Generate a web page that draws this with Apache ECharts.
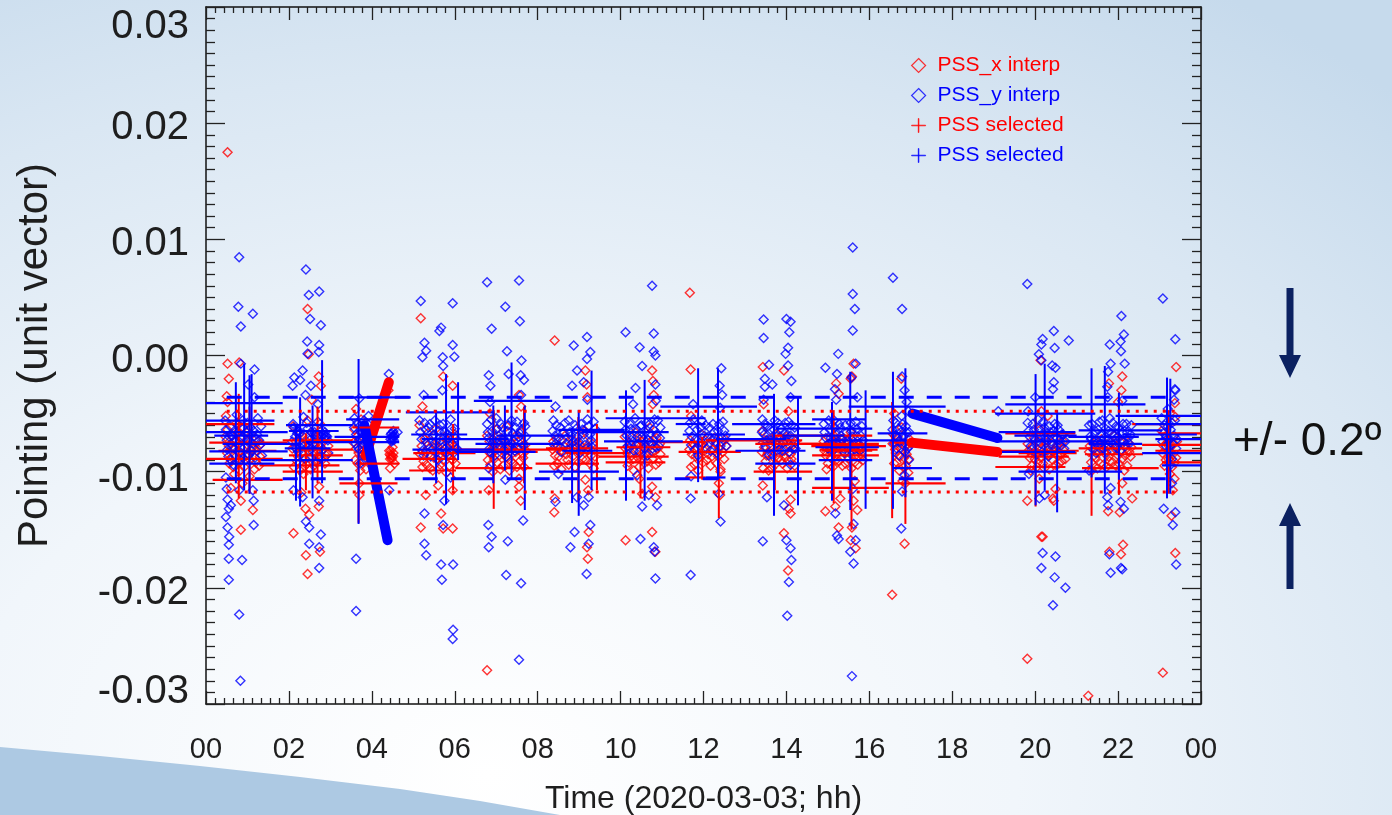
<!DOCTYPE html>
<html>
<head>
<meta charset="utf-8">
<script src="https://cdn.jsdelivr.net/npm/echarts@6/dist/echarts.min.js"></script>
<style>
  html, body { margin: 0; padding: 0; width: 1392px; height: 815px; overflow: hidden; }
  body {
    background: radial-gradient(ellipse 95% 115% at 35% 95%, #ffffff 0%, #f1f6fb 40%, #dae7f3 75%, #c6daec 100%);
  }
  #chart { width: 1392px; height: 815px; }
</style>
</head>
<body>
<div id="chart"></div>
<script>
// time in hours of 2020-03-03, pointing in units of 1e-3 (unit vector)
const xTickLabels = ["00", "02", "04", "06", "08", "10", "12", "14", "16", "18", "20", "22", "00"];
const yTickLabels = { "-30": "-0.03", "-20": "-0.02", "-10": "-0.01", "0": "0.00", "10": "0.01", "20": "0.02", "30": "0.03" };

const pssXInterp = [
  // 00-01h
  [0.48,-5.2],[0.52,-6.4],[0.55,-7.8],[0.58,-8.9],[0.62,-6.9],[0.66,-9.6],[0.7,-7.4],[0.74,-5.8],[0.78,-8.3],[0.82,-9.9],
  [0.86,-7.1],[0.9,-6.2],[0.95,-8.6],[1.0,-7.7],[1.05,-10.4],[1.1,-6.8],[1.15,-8.1],[1.2,-9.2],[1.25,-7.4],[1.3,-8.7],
  [0.52,17.5],[0.52,-0.7],[0.55,-2.0],[0.8,-0.6],[0.52,-4.0],[0.84,-15.0],[1.13,-13.3],[0.84,-12.5],[0.88,-11.0],[0.5,-3.5],[0.6,-11.4],
  // 02-03h
  [2.1,-6.1],[2.15,-7.9],[2.2,-9.1],[2.25,-6.8],[2.3,-8.4],[2.35,-10.2],[2.4,-7.3],[2.45,-5.6],[2.5,-8.8],[2.55,-6.6],
  [2.6,-9.5],[2.65,-7.6],[2.7,-8.2],[2.75,-5.9],[2.8,-9.0],[2.85,-7.1],[2.9,-8.6],[2.95,-7.8],
  [2.45,4.0],[2.48,0.1],[2.72,-1.8],[2.77,-2.6],[2.11,-15.3],[2.4,-13.2],[2.49,-13.7],[2.41,-17.2],[2.45,-18.8],[2.75,-16.9],
  [2.72,-13.0],[2.73,-11.3],[2.3,-11.8],[2.55,-3.8],
  // 03-04h
  [3.58,-6.4],[3.62,-8.0],[3.66,-9.3],[3.7,-7.2],[3.74,-5.5],[3.78,-8.6],[3.82,-7.7],[3.86,-9.8],[3.9,-6.9],
  [4.42,-8.2],[4.45,-8.6],[4.48,-8.9],[4.52,-8.4],[4.5,-7.9],
  [4.40,-3.0],[4.44,-9.7],[3.70,-11.0],[3.70,-12.0],[3.62,-4.6],[4.55,-9.3],
  // 05-06h
  [5.15,-6.0],[5.2,-7.8],[5.25,-9.1],[5.3,-8.3],[5.35,-6.7],[5.4,-9.7],[5.45,-7.4],[5.5,-8.8],[5.55,-6.3],[5.6,-7.9],
  [5.65,-9.4],[5.7,-8.2],[5.75,-7.0],[5.8,-10.1],[5.85,-8.5],[5.9,-7.5],[5.95,-9.0],[6.0,-6.8],[6.05,-8.1],
  [5.18,3.2],[5.18,-14.8],[5.67,-13.6],[5.72,-14.9],[5.95,-14.9],[5.22,-4.4],[5.95,-11.6],[5.72,-1.8],[5.95,-2.6],[5.3,-12.0],[5.6,-11.2],
  // 06-07h
  [6.78,-6.9],[6.82,-8.3],[6.86,-9.4],[6.9,-7.6],[6.95,-8.9],[7.0,-6.4],[7.05,-8.0],[7.1,-9.8],[7.15,-7.3],[7.2,-8.6],
  [7.25,-6.1],[7.3,-7.9],[7.35,-9.1],[7.4,-8.4],[7.45,-7.0],[7.5,-9.6],[7.55,-8.1],[7.6,-6.6],[7.65,-8.8],[7.7,-7.7],
  [6.78,-27.1],[6.82,-11.6],[7.55,-11.3],[7.59,-12.5],[7.55,-10.6],[6.85,-5.0],[7.6,-4.4],[7.55,-3.4],
  // 08-09h
  [8.38,-7.4],[8.42,-8.6],[8.48,-9.3],[8.54,-7.9],[8.6,-8.3],[8.66,-6.9],[8.72,-9.0],[8.78,-8.0],[8.84,-7.2],[8.9,-9.6],
  [8.96,-8.4],[9.02,-7.7],[9.08,-8.9],[9.14,-6.5],[9.2,-8.2],[9.26,-9.3],[9.32,-7.6],[9.38,-8.7],
  [8.41,1.3],[9.15,-1.3],[8.41,-12.3],[8.40,-13.5],[9.19,-16.5],[9.21,-17.5],[9.23,-15.2],[9.15,-10.7],[9.18,-2.5],[9.2,-3.6],[9.22,-11.6],
  // 10-11h
  [10.1,-7.0],[10.15,-8.4],[10.2,-9.2],[10.25,-7.7],[10.3,-8.9],[10.35,-6.6],[10.4,-8.1],[10.45,-9.6],[10.5,-7.4],[10.55,-8.6],
  [10.6,-7.9],[10.65,-9.1],[10.7,-6.2],[10.75,-8.3],[10.8,-7.2],[10.85,-9.4],[10.9,-8.0],[10.95,-7.6],
  [10.76,-1.3],[10.78,-2.2],[10.12,-15.9],[10.76,-15.2],[10.84,-16.9],[10.84,-12.2],[10.52,-11.9],[10.76,-11.3],[10.8,-3.4],[10.78,-4.2],[10.45,-10.6],
  // 11-12h
  [11.68,-7.3],[11.72,-8.5],[11.78,-9.4],[11.84,-7.9],[11.9,-8.8],[11.96,-6.8],[12.02,-8.2],[12.08,-9.0],[12.14,-7.6],[12.2,-8.7],
  [12.26,-7.1],[12.32,-9.3],[12.38,-8.0],[12.44,-7.5],[12.5,-8.9],[12.55,-7.8],
  [11.67,5.4],[11.69,-1.2],[12.41,-10.0],[12.37,-11.0],[11.7,-5.2],[12.4,-12.0],
  // 13-14h
  [13.42,-6.5],[13.46,-7.9],[13.5,-9.1],[13.55,-8.4],[13.6,-7.2],[13.65,-9.7],[13.7,-8.0],[13.75,-6.8],[13.8,-8.8],[13.85,-7.5],
  [13.9,-9.3],[13.95,-8.2],[14.0,-7.0],[14.05,-9.0],[14.1,-8.5],[14.15,-7.7],[14.2,-9.5],
  [13.43,-1.0],[13.94,-1.3],[13.43,-11.2],[13.94,-15.3],[14.04,-18.5],[14.1,-13.6],[14.06,-13.2],[13.45,-4.2],[14.05,-4.8],[14.1,-12.4],
  // 15h
  [14.9,-7.4],[14.95,-8.6],[15.0,-9.3],[15.05,-7.9],[15.1,-8.3],[15.15,-6.9],[15.2,-9.0],[15.25,-8.0],[15.3,-7.5],[15.35,-9.5],
  [15.4,-8.4],[15.45,-7.7],[15.5,-8.9],[15.55,-6.6],[15.6,-8.2],[15.65,-9.2],[15.7,-7.6],[15.75,-8.7],[15.8,-8.1],[15.85,-9.0],
  [15.62,-0.7],[15.58,-1.8],[15.26,-3.3],[14.94,-13.4],[15.18,-13.0],[15.26,-14.8],[15.58,-14.8],[15.71,-13.3],[15.67,-16.6],
  [15.55,-15.9],[15.3,-12.3],[15.62,-12.5],[15.2,-2.4],[15.55,-2.0],[15.65,-10.8],
  // 16-17h
  [16.58,-6.8],[16.62,-8.1],[16.66,-9.2],[16.7,-7.4],[16.74,-8.7],[16.78,-6.2],[16.82,-9.6],[16.86,-7.9],[16.9,-8.5],[16.94,-10.1],[16.97,-7.2],
  [16.55,-20.6],[16.85,-16.2],[16.77,-2.0],[16.87,-11.0],[16.8,-10.8],[16.6,-5.0],
  // 19-20h
  [19.82,-7.6],[19.87,-8.8],[19.92,-9.5],[19.97,-7.1],[20.02,-8.3],[20.07,-9.2],[20.12,-6.4],[20.17,-8.0],[20.22,-9.7],[20.27,-7.5],
  [20.32,-8.6],[20.37,-6.9],[20.42,-9.0],[20.47,-8.2],[20.52,-7.8],[20.57,-9.3],[20.62,-8.5],[20.68,-7.4],[20.73,-8.9],
  [20.13,-0.4],[19.81,-26.1],[20.15,-15.6],[20.18,-15.6],[19.81,-12.5],[20.43,-12.3],[20.49,-11.5],[20.45,-12.5],[20.15,-4.8],[20.3,-5.2],[20.1,-10.6],
  // 21-22h
  [21.3,-8.3],[21.35,-9.2],[21.4,-7.6],[21.45,-8.8],[21.5,-9.7],[21.55,-8.0],[21.6,-7.2],[21.65,-9.4],[21.7,-8.5],[21.75,-7.8],
  [21.8,-9.1],[21.85,-8.2],[21.9,-6.9],[21.95,-9.5],[22.0,-8.6],[22.05,-7.4],[22.1,-8.9],[22.15,-9.9],[22.2,-8.0],[22.25,-7.5],[22.3,-8.7],
  [22.1,-1.8],[22.08,-3.0],[21.78,-2.4],[21.28,-29.3],[22.12,-16.3],[22.07,-17.1],[21.79,-16.9],[21.76,-13.4],[22.04,-13.5],[22.34,-12.3],[22.0,-4.0],[22.1,-11.0],
  // 23h
  [23.05,-6.5],[23.1,-7.8],[23.15,-9.0],[23.2,-7.2],[23.25,-8.4],[23.3,-9.6],[23.35,-7.6],[23.4,-8.8],
  [23.4,-1.0],[23.37,-4.1],[23.08,-27.3],[23.38,-17.0],[23.29,-13.8],[23.32,-11.6],[23.38,-5.3],[23.36,-10.6]
];

// the packed cores of each PSS_x cluster
const pssXDense = [
  [0.47,-7.0],[0.51,-8.4],[0.56,-9.3],[0.6,-7.6],[0.64,-8.0],[0.68,-10.2],[0.72,-8.7],[0.76,-6.6],[0.8,-9.1],[0.84,-7.9],
  [0.88,-8.8],[0.92,-9.6],[0.97,-7.3],[1.02,-8.5],[1.07,-9.0],[1.12,-7.9],[1.17,-9.8],[1.22,-8.2],[1.28,-9.5],[1.33,-7.6],
  [2.08,-8.0],[2.12,-9.6],[2.17,-7.4],[2.22,-8.7],[2.27,-9.9],[2.32,-7.7],[2.37,-8.9],[2.42,-9.4],[2.47,-7.9],[2.52,-9.8],
  [2.57,-8.3],[2.62,-7.2],[2.67,-9.1],[2.72,-8.8],[2.77,-7.5],[2.82,-8.1],[2.87,-9.3],[2.93,-8.5],
  [3.56,-7.5],[3.6,-9.0],[3.64,-7.0],[3.68,-8.4],[3.72,-9.9],[3.76,-7.6],[3.8,-9.1],[3.84,-8.3],[3.88,-7.9],[3.92,-8.8],
  [4.43,-8.5],[4.46,-8.2],[4.49,-8.6],[4.47,-8.8],[4.51,-8.7],[4.44,-8.9],
  [5.17,-8.5],[5.22,-9.6],[5.27,-7.2],[5.32,-9.4],[5.37,-8.0],[5.42,-8.6],[5.47,-9.9],[5.52,-7.7],[5.57,-8.9],[5.62,-9.8],
  [5.67,-7.6],[5.72,-9.0],[5.77,-8.4],[5.82,-7.3],[5.87,-9.5],[5.92,-8.2],[5.97,-7.8],[6.02,-9.3],
  [6.8,-9.0],[6.84,-7.4],[6.88,-8.5],[6.92,-10.0],[6.97,-7.8],[7.02,-9.2],[7.07,-8.6],[7.12,-7.1],[7.17,-9.5],[7.22,-8.0],
  [7.27,-8.8],[7.32,-9.9],[7.37,-7.6],[7.42,-9.3],[7.47,-8.3],[7.52,-7.4],[7.57,-9.1],[7.62,-8.4],[7.67,-9.6],[7.72,-8.2],
  [8.36,-8.1],[8.4,-9.5],[8.45,-7.2],[8.51,-8.7],[8.57,-9.8],[8.63,-7.8],[8.69,-8.5],[8.75,-9.4],[8.81,-7.6],[8.87,-8.6],
  [8.93,-7.9],[8.99,-9.2],[9.05,-8.1],[9.11,-7.3],[9.17,-9.0],[9.23,-7.9],[9.29,-8.6],[9.35,-9.7],
  [10.12,-8.0],[10.17,-9.5],[10.22,-7.5],[10.27,-8.6],[10.32,-9.9],[10.37,-7.7],[10.42,-8.8],[10.47,-7.2],[10.52,-9.0],[10.57,-7.6],
  [10.62,-8.4],[10.67,-9.7],[10.72,-7.4],[10.77,-8.9],[10.82,-8.2],[10.87,-7.1],[10.92,-9.2],[10.96,-8.5],
  [11.66,-8.1],[11.7,-9.6],[11.75,-7.6],[11.81,-8.7],[11.87,-9.9],[11.93,-7.8],[11.99,-9.2],[12.05,-7.3],[12.11,-8.5],[12.17,-9.5],
  [12.23,-8.1],[12.29,-7.6],[12.35,-8.7],[12.41,-9.8],[12.47,-8.3],[12.53,-7.2],
  [13.41,-8.3],[13.44,-9.7],[13.48,-7.3],[13.52,-8.6],[13.57,-9.9],[13.62,-7.8],[13.67,-8.7],[13.72,-9.4],[13.77,-7.6],[13.82,-8.3],
  [13.87,-9.0],[13.92,-7.4],[13.97,-8.8],[14.02,-9.7],[14.07,-7.7],[14.12,-8.9],[14.17,-8.1],[14.22,-7.4],
  [14.92,-8.2],[14.97,-9.8],[15.02,-7.6],[15.07,-8.8],[15.12,-9.6],[15.17,-7.8],[15.22,-8.5],[15.27,-9.1],[15.32,-7.2],[15.37,-8.2],
  [15.42,-9.3],[15.47,-7.4],[15.52,-8.0],[15.57,-9.7],[15.62,-7.4],[15.67,-8.6],[15.72,-9.4],[15.77,-7.9],[15.82,-8.6],
  [16.56,-7.6],[16.6,-9.3],[16.64,-8.4],[16.68,-7.0],[16.72,-9.9],[16.76,-8.0],[16.8,-7.6],[16.84,-8.8],[16.88,-9.5],[16.92,-7.6],[16.96,-8.9],
  [19.84,-8.2],[19.89,-9.9],[19.94,-7.8],[19.99,-8.9],[20.04,-9.6],[20.09,-7.4],[20.14,-8.8],[20.19,-9.3],[20.24,-7.9],[20.29,-8.5],
  [20.34,-9.8],[20.39,-7.6],[20.44,-8.2],[20.49,-9.4],[20.54,-8.6],[20.59,-7.5],[20.64,-9.1],[20.7,-8.2],
  [21.32,-7.8],[21.37,-9.9],[21.42,-8.6],[21.47,-7.3],[21.52,-8.4],[21.57,-9.3],[21.62,-8.0],[21.67,-7.7],[21.72,-9.6],[21.77,-8.7],
  [21.82,-7.5],[21.87,-9.2],[21.92,-8.0],[21.97,-7.8],[22.02,-9.3],[22.07,-8.2],[22.12,-7.4],[22.17,-8.6],[22.22,-9.5],[22.27,-8.3],[22.32,-7.9],
  [23.07,-8.4],[23.12,-9.5],[23.17,-7.6],[23.22,-8.9],[23.27,-7.8],[23.32,-8.5],[23.37,-9.2],[23.42,-7.4],[23.25,-10.2]
];

const pssYInterp = [
  // 00-01h
  [0.46,-5.6],[0.5,-7.3],[0.54,-8.7],[0.58,-6.1],[0.62,-7.9],[0.66,-9.4],[0.7,-6.6],[0.74,-5.1],[0.78,-7.6],[0.82,-8.4],
  [0.86,-6.2],[0.9,-7.0],[0.95,-9.0],[1.0,-5.8],[1.05,-7.4],[1.1,-8.2],[1.15,-6.5],[1.2,-7.1],[1.25,-5.4],[1.3,-7.7],[1.35,-8.6],
  [0.48,-10.5],[0.5,-11.5],[0.52,-12.4],[0.55,-13.2],
  [0.8,8.45],[0.78,4.2],[1.13,3.6],[0.84,2.5],[1.17,-1.2],[0.84,-0.7],[1.02,-2.5],[1.17,-3.6],[0.48,-13.9],[0.52,-14.8],[0.56,-15.6],
  [0.55,-16.3],[0.55,-17.5],[0.55,-19.3],[0.87,-17.6],[0.8,-22.3],[0.83,-28.0],[1.15,-14.6],[1.15,-12.5],[0.6,-12.9],[0.8,-11.6],[1.13,-11.6],
  // 02-03h
  [2.1,-5.9],[2.15,-7.0],[2.2,-6.5],[2.22,-8.3],[2.26,-6.7],[2.3,-7.6],[2.35,-5.3],[2.4,-8.9],[2.45,-6.3],[2.5,-7.3],
  [2.55,-8.0],[2.6,-6.8],[2.63,-6.9],[2.66,-9.2],[2.7,-5.7],[2.75,-7.8],[2.8,-6.4],[2.85,-7.1],[2.88,-7.0],[2.92,-7.0],[2.95,-8.4],
  [2.41,7.4],[2.48,5.2],[2.73,5.5],[2.51,3.15],[2.77,2.6],[2.44,1.2],[2.73,0.9],[2.45,0.15],[2.72,0.3],[2.33,-1.3],[2.13,-1.9],
  [2.09,-2.6],[2.27,-2.1],[2.53,-2.6],[2.11,-11.6],[2.41,-14.3],[2.49,-14.8],[2.77,-15.4],[2.49,-16.2],[2.73,-16.5],[2.73,-18.3],
  [2.33,-12.2],[2.73,-12.5],[2.4,-3.4],[2.7,-4.2],
  // 03-04h
  [3.58,-5.4],[3.62,-6.8],[3.66,-7.9],[3.7,-6.1],[3.74,-7.2],[3.78,-8.5],[3.82,-6.5],[3.86,-7.6],[3.9,-5.9],
  [4.46,-6.8],[4.48,-7.0],[4.5,-7.1],[4.52,-6.9],[4.54,-7.0],
  [3.62,-17.5],[3.62,-22.0],[4.41,-1.6],[4.42,-11.6],[3.7,-3.7],[3.92,-5.2],[4.62,-6.6],[3.72,-9.3],
  // 05-06h
  [5.15,-5.6],[5.2,-7.2],[5.25,-8.6],[5.3,-6.4],[5.35,-7.7],[5.4,-5.9],[5.45,-8.1],[5.5,-6.8],[5.55,-7.4],[5.6,-9.0],
  [5.65,-6.0],[5.7,-7.9],[5.75,-6.6],[5.8,-8.4],[5.85,-7.1],[5.9,-5.5],[5.95,-7.6],[6.0,-6.3],[6.05,-8.0],
  [5.18,4.7],[5.95,4.5],[5.27,1.1],[5.31,0.4],[5.22,-0.15],[5.63,2.1],[5.67,2.4],[5.71,-0.15],[5.72,-0.9],[5.95,0.9],[5.99,-0.1],
  [5.27,-16.2],[5.31,-17.2],[5.67,-18.0],[5.69,-19.3],[5.96,-18.0],[5.96,-23.6],[5.95,-24.4],[5.27,-13.6],[5.75,-12.5],[5.72,-14.6],
  [5.25,-3.4],[5.7,-3.0],[5.9,-10.5],
  // 06-07h
  [6.78,-5.9],[6.82,-7.1],[6.86,-8.3],[6.9,-6.5],[6.95,-7.6],[7.0,-5.4],[7.05,-6.9],[7.1,-8.0],[7.15,-6.2],[7.2,-7.3],
  [7.25,-8.7],[7.3,-6.0],[7.35,-7.5],[7.4,-6.7],[7.45,-8.2],[7.5,-5.7],[7.55,-7.0],[7.6,-6.4],[7.65,-7.8],[7.7,-6.1],
  [6.78,6.3],[7.55,6.45],[7.22,4.2],[7.57,2.95],[6.89,2.3],[7.26,0.37],[7.61,-0.43],[6.82,-1.7],[6.86,-2.6],[7.3,-1.6],[7.59,-1.7],
  [7.67,-2.1],[6.81,-14.6],[6.89,-15.6],[6.82,-16.5],[7.28,-16.0],[7.24,-18.9],[7.6,-19.6],[7.55,-26.2],[7.65,-14.2],[7.22,-10.7],
  [6.82,-9.7],[6.85,-4.0],[7.6,-3.4],
  // 08-09h
  [8.38,-5.6],[8.42,-6.9],[8.48,-7.8],[8.54,-6.2],[8.6,-7.3],[8.66,-5.8],[8.72,-8.1],[8.78,-6.6],[8.84,-7.5],[8.9,-6.0],
  [8.96,-7.0],[9.02,-8.4],[9.08,-6.4],[9.14,-7.7],[9.2,-5.5],[9.26,-6.8],[9.32,-7.9],[9.38,-6.3],
  [8.87,0.86],[9.19,1.6],[9.27,0.3],[9.19,-0.3],[8.95,-1.3],[8.83,-2.6],[9.11,-2.3],[8.43,-4.4],[8.79,-16.5],[8.89,-15.2],
  [9.18,-18.8],[9.23,-16.2],[9.27,-14.6],[9.11,-12.9],[9.23,-12.2],[8.95,-12.2],[8.43,-12.6],[8.5,-10.2],[9.2,-3.8],
  // 10-11h
  [10.1,-5.7],[10.15,-6.9],[10.2,-8.0],[10.25,-6.3],[10.3,-7.4],[10.35,-5.4],[10.4,-7.0],[10.45,-8.3],[10.5,-6.0],[10.55,-7.2],
  [10.6,-6.6],[10.65,-8.6],[10.7,-5.9],[10.75,-7.6],[10.8,-6.4],[10.85,-7.9],[10.9,-5.6],[10.95,-7.1],
  [10.76,6.0],[10.12,2.0],[10.8,1.9],[10.46,0.7],[10.8,0.35],[10.84,0],[10.52,-0.9],[10.84,-2.5],[10.36,-2.8],[10.48,-15.8],
  [10.8,-16.5],[10.82,-16.9],[10.84,-19.2],[10.88,-12.9],[10.52,-13.0],[10.68,-12.0],[10.3,-4.2],[10.85,-3.9],[10.4,-10.3],
  // 11-12h
  [11.68,-5.8],[11.72,-7.0],[11.78,-8.1],[11.84,-6.4],[11.9,-7.5],[11.96,-5.6],[12.02,-6.9],[12.08,-8.0],[12.14,-6.2],[12.2,-7.3],
  [12.26,-6.6],[12.32,-8.4],[12.38,-5.9],[12.44,-7.1],[12.5,-6.5],[12.55,-7.8],
  [11.69,-18.9],[11.69,-12.3],[12.43,-1.1],[12.39,-2.6],[12.45,-3.4],[12.41,-14.3],[12.37,-11.9],[11.75,-4.2],[12.4,-4.5],[11.7,-10.4],
  // 13-14h
  [13.42,-5.5],[13.46,-6.8],[13.5,-7.9],[13.55,-6.1],[13.6,-7.3],[13.65,-8.5],[13.7,-6.4],[13.75,-7.6],[13.8,-5.8],[13.85,-7.0],
  [13.9,-8.2],[13.95,-6.7],[14.0,-7.4],[14.05,-5.7],[14.1,-6.9],[14.15,-8.0],[14.2,-6.2],[14.1,-9.4],
  [13.45,3.1],[13.45,1.5],[14.0,3.15],[14.1,2.9],[14.07,2.0],[14.04,0.66],[13.98,0.14],[14.04,-0.86],[14.12,-2.2],[13.58,-0.8],
  [13.48,-2.0],[13.48,-2.7],[13.66,-2.5],[13.43,-16.0],[14.0,-15.9],[14.1,-16.6],[14.12,-17.6],[14.06,-19.5],[14.02,-22.4],
  [13.94,-12.9],[13.53,-12.2],[13.45,-3.8],[14.1,-3.6],
  // 15h
  [14.9,-5.9],[14.95,-7.1],[15.0,-8.0],[15.05,-6.4],[15.1,-7.4],[15.15,-5.6],[15.2,-6.8],[15.25,-7.8],[15.3,-6.2],[15.35,-7.2],
  [15.4,-8.4],[15.45,-6.6],[15.5,-7.5],[15.55,-5.8],[15.6,-7.0],[15.65,-8.1],[15.7,-6.3],[15.75,-7.6],[15.8,-6.9],[15.85,-7.3],
  [15.6,9.3],[15.6,5.3],[15.65,4.0],[15.6,2.15],[15.25,0.14],[14.94,-1.06],[15.22,-1.6],[15.67,-0.7],[15.57,-1.9],[15.17,-2.9],
  [15.71,-3.6],[15.18,-13.6],[15.22,-15.5],[15.26,-15.8],[15.67,-15.9],[15.62,-14.5],[15.54,-16.9],[15.62,-17.9],[15.58,-27.6],
  [15.2,-3.8],[15.6,-11.5],
  // 16-17h
  [16.58,-5.6],[16.62,-6.9],[16.66,-8.0],[16.7,-6.3],[16.74,-7.4],[16.78,-5.2],[16.82,-7.0],[16.86,-8.3],[16.9,-6.6],[16.94,-4.8],[16.97,-7.8],[16.95,-9.0],
  [16.57,6.7],[16.79,4.0],[16.79,-1.8],[16.85,-3.0],[16.77,-14.9],[16.79,-11.7],[16.85,-10.3],[16.9,-4.0],
  // 19-20h
  [19.82,-5.8],[19.87,-7.0],[19.92,-8.1],[19.97,-6.4],[20.02,-7.5],[20.07,-5.5],[20.12,-6.9],[20.17,-8.3],[20.22,-6.2],[20.27,-7.3],
  [20.32,-8.7],[20.37,-6.6],[20.42,-7.7],[20.47,-5.9],[20.52,-7.1],[20.57,-6.4],[20.62,-7.8],[20.68,-6.8],[20.73,-7.4],
  [19.81,6.16],[20.18,1.43],[20.15,0.95],[20.45,2.1],[20.81,1.3],[20.47,0.64],[20.09,0.1],[20.15,-0.4],[20.41,-0.86],[20.49,-1.06],
  [20.45,-2.3],[20.43,-2.9],[20.18,-17.0],[20.49,-17.3],[20.15,-18.3],[20.47,-19.1],[20.73,-20.0],[20.43,-21.5],[20.1,-12.3],
  [20.23,-12.0],[19.11,-4.8],[19.83,-4.8],[20.0,-3.6],[19.85,-10.2],
  // 21-22h
  [21.3,-6.0],[21.35,-7.2],[21.4,-8.1],[21.45,-6.5],[21.5,-7.5],[21.55,-5.7],[21.6,-6.9],[21.65,-8.0],[21.7,-6.3],[21.75,-7.3],
  [21.8,-5.4],[21.85,-6.7],[21.9,-7.7],[21.95,-6.1],[22.0,-7.0],[22.05,-8.2],[22.1,-6.6],[22.15,-7.4],[22.2,-5.9],[22.25,-7.1],[22.3,-6.8],
  [22.08,3.4],[21.8,0.95],[22.06,1.2],[22.14,1.8],[22.07,0.37],[22.16,-0.7],[21.82,-0.7],[21.76,-1.4],[21.74,-2.7],[21.79,-17.1],
  [21.82,-18.7],[22.07,-18.3],[22.1,-18.4],[21.74,-12.2],[21.76,-12.9],[22.14,-13.2],[21.82,-11.4],[22.06,-12.6],[21.75,-3.6],
  [22.1,-3.9],[21.3,-9.9],
  // 23h
  [23.05,-5.4],[23.1,-6.7],[23.15,-7.8],[23.2,-6.1],[23.25,-7.2],[23.3,-5.8],[23.35,-6.9],[23.4,-8.0],[23.3,-8.9],[23.2,-4.6],
  [23.08,4.9],[23.38,1.4],[23.38,-3.0],[23.1,-13.2],[23.38,-13.5],[23.32,-14.6],[23.4,-18.0],[23.37,-2.9],[23.3,-11.0],[23.35,-3.8]
];

// the packed cores of each PSS_y cluster
const pssYDense = [
  [0.48,-6.4],[0.52,-8.1],[0.56,-7.0],[0.6,-9.0],[0.64,-6.9],[0.68,-8.0],[0.72,-7.3],[0.76,-6.0],[0.8,-8.9],[0.84,-7.1],
  [0.88,-5.6],[0.93,-7.9],[0.98,-6.6],[1.03,-8.6],[1.08,-6.2],[1.13,-7.6],[1.18,-8.8],[1.23,-6.8],[1.28,-7.3],[1.33,-6.1],
  [2.08,-7.4],[2.12,-6.2],[2.17,-8.0],[2.2,-6.7],[2.24,-6.5],[2.28,-7.9],[2.33,-6.9],[2.38,-7.7],[2.43,-5.8],[2.48,-8.2],
  [2.53,-6.6],[2.58,-7.6],[2.62,-6.6],[2.65,-6.8],[2.68,-7.0],[2.73,-8.7],[2.78,-6.9],[2.83,-6.8],[2.87,-6.6],[2.9,-6.9],[2.94,-7.3],
  [3.57,-6.2],[3.61,-7.6],[3.65,-5.8],[3.69,-8.1],[3.73,-6.6],[3.77,-7.0],[3.81,-5.6],[3.85,-8.8],[3.89,-7.3],[3.93,-6.6],
  [4.45,-7.2],[4.47,-6.7],[4.49,-7.3],[4.51,-6.6],[4.53,-7.3],[4.55,-6.8],[4.47,-7.4],[4.52,-6.5],
  [5.17,-6.6],[5.22,-8.2],[5.27,-5.8],[5.32,-7.5],[5.37,-6.2],[5.42,-8.7],[5.47,-6.9],[5.52,-5.6],[5.57,-8.3],[5.62,-6.5],
  [5.67,-7.3],[5.72,-5.9],[5.77,-8.0],[5.82,-6.8],[5.87,-7.7],[5.92,-6.3],[5.97,-8.4],[6.02,-7.1],
  [6.8,-6.6],[6.84,-8.0],[6.88,-5.5],[6.92,-7.2],[6.97,-8.6],[7.02,-6.3],[7.07,-7.7],[7.12,-5.9],[7.17,-7.1],[7.22,-8.2],
  [7.27,-6.5],[7.32,-7.8],[7.37,-5.6],[7.42,-7.4],[7.47,-6.2],[7.52,-8.0],[7.57,-6.7],[7.62,-7.5],[7.67,-5.8],[7.72,-7.0],
  [8.36,-6.5],[8.4,-7.7],[8.45,-6.0],[8.51,-7.1],[8.57,-8.3],[8.63,-6.6],[8.69,-7.6],[8.75,-5.6],[8.81,-6.9],[8.87,-8.0],
  [8.93,-6.3],[8.99,-7.4],[9.05,-5.9],[9.11,-6.8],[9.17,-8.0],[9.23,-6.1],[9.29,-7.3],[9.35,-5.7],
  [10.12,-6.4],[10.17,-7.8],[10.22,-5.9],[10.27,-7.0],[10.32,-8.2],[10.37,-6.3],[10.42,-7.6],[10.47,-6.1],[10.52,-7.0],[10.57,-8.0],
  [10.62,-5.8],[10.67,-7.3],[10.72,-6.7],[10.77,-8.0],[10.82,-5.5],[10.87,-6.8],[10.92,-7.8],[10.96,-6.2],
  [11.66,-6.5],[11.7,-7.7],[11.75,-5.5],[11.81,-7.2],[11.87,-8.6],[11.93,-6.2],[11.99,-7.6],[12.05,-6.0],[12.11,-7.0],[12.17,-8.2],
  [12.23,-5.9],[12.29,-7.4],[12.35,-6.5],[12.41,-7.8],[12.47,-5.7],[12.53,-6.9],
  [13.41,-6.6],[13.44,-7.5],[13.48,-5.9],[13.52,-7.3],[13.57,-8.6],[13.62,-6.4],[13.67,-7.2],[13.72,-5.6],[13.77,-7.0],[13.82,-8.1],
  [13.87,-6.3],[13.92,-7.5],[13.97,-5.8],[14.02,-6.8],[14.07,-8.3],[14.12,-6.0],[14.17,-7.2],[14.22,-8.0],
  [14.92,-6.6],[14.97,-7.7],[15.02,-5.6],[15.07,-7.1],[15.12,-8.2],[15.17,-6.2],[15.22,-7.6],[15.27,-5.9],[15.32,-6.9],[15.37,-8.0],
  [15.42,-6.0],[15.47,-7.3],[15.52,-8.4],[15.57,-6.5],[15.62,-7.7],[15.67,-5.7],[15.72,-7.0],[15.77,-8.2],[15.82,-6.1],
  [16.56,-6.4],[16.6,-7.6],[16.64,-5.8],[16.68,-7.1],[16.72,-8.6],[16.76,-6.6],[16.8,-5.9],[16.84,-7.5],[16.88,-6.1],[16.92,-8.0],[16.96,-6.6],
  [19.84,-6.5],[19.89,-7.8],[19.94,-5.9],[19.99,-7.2],[20.04,-8.5],[20.09,-6.3],[20.14,-7.6],[20.19,-5.7],[20.24,-7.0],[20.29,-8.2],
  [20.34,-6.1],[20.39,-7.4],[20.44,-6.5],[20.49,-8.0],[20.54,-6.0],[20.59,-7.3],[20.64,-6.8],[20.7,-8.0],
  [21.32,-7.0],[21.37,-5.9],[21.42,-7.4],[21.47,-8.4],[21.52,-6.4],[21.57,-7.6],[21.62,-5.6],[21.67,-7.1],[21.72,-8.3],[21.77,-6.5],
  [21.82,-7.5],[21.87,-5.8],[21.92,-6.9],[21.97,-8.0],[22.02,-6.2],[22.07,-7.3],[22.12,-5.9],[22.17,-7.8],[22.22,-6.6],[22.27,-7.6],[22.32,-6.0],
  [23.07,-7.4],[23.12,-6.0],[23.17,-7.0],[23.22,-8.2],[23.27,-6.4],[23.32,-7.6],[23.37,-5.6],[23.42,-7.2],[23.27,-9.4]
];

// interpolation across data gaps (drawn as thick runs)
const pssXGaps = [[[3.85, -8.6], [4.41, -2.3]], [[17.02, -7.5], [19.09, -8.3]]];
const pssYGaps = [[[3.82, -6.0], [4.38, -15.9]], [[17.04, -5.0], [19.09, -7.1]]];

// selected PSS: horizontal bars [value, tStart, tEnd], vertical bars [t, vTop, vBottom]
const redHBars = [
  [-5.9,0,1.65],[-7.5,0.08,1.97],[-8.9,0,1.85],[-10.7,0.16,1.85],[-8.2,0.3,1.7],
  [-7.3,1.85,3.54],[-9.45,1.29,3.22],[-10.0,1.85,3.3],[-8.1,2.17,3.54],[-8.6,2.0,3.3],
  [-9.3,3.62,4.66],[-11.0,3.22,4.62],[-6.2,3.54,4.66],
  [-8.9,4.74,6.03],[-9.9,4.9,6.03],[-8.4,5.0,6.5],
  [-8.1,6.02,8.67],[-9.7,6.02,7.87],[-8.3,6.5,8.0],[-9.3,7.95,9.48],[-8.0,8.2,9.7],[-8.4,8.67,10.2],[-8.7,9.48,11.16],
  [-9.2,9.64,11.08],[-7.9,9.9,11.2],[-7.45,10.92,12.05],[-10.5,11.56,12.05],[-8.3,11.4,12.9],
  [-7.3,12.05,14.38],[-7.6,13.25,16.23],[-7.6,13.3,14.8],[-7.8,14.6,16.4],[-8.1,14.8,16.2],[-8.2,14.86,16.07],[-8.6,14.62,16.23],
  [-10.0,13.21,14.62],[-6.9,13.66,16.07],[-11.0,16.39,17.84],[-11.4,14.62,16.47],[-7.5,16.5,17.4],
  [-6.7,19.28,20.97],[-8.2,19.04,21.05],[-8.7,19.12,20.81],[-9.6,19.04,20.73],[-8.4,19.6,21.0],[-8.0,21.05,22.58],[-9.7,21.13,22.98],
  [-8.5,21.2,22.6],[-7.7,22.58,24],[-6.7,22.98,24],[-5.9,22.34,24],[-9.2,23.06,24],[-8.2,22.9,24]
];
const redVBars = [
  [0.79,-3.3,-12.3],[1.05,-4.4,-11.9],[2.41,-6.7,-11.6],[2.69,-4.4,-11.0],[3.68,-8.2,-14.4],[5.96,-5.9,-11.6],
  [6.94,-4.7,-13.2],[7.67,-4.4,-11.0],[8.98,-5.3,-12.5],[9.43,-5.9,-11.6],[10.48,-7.0,-12.3],[11.97,-7.0,-10.7],
  [12.37,-7.0,-14.0],[13.72,-7.0,-11.6],[15.14,-4.7,-12.7],[15.57,-8.7,-15.0],[16.55,-4.0,-14.0],[16.87,-8.2,-14.5],
  [20.01,-5.3,-13.0],[21.36,-8.7,-13.8],[22.02,-7.0,-12.0],[23.22,-4.7,-11.9]
];
const blueHBars = [
  [-4.1,0,1.85],[-5.6,0,1.65],[-6.6,0,1.97],[-8.25,0.08,1.97],[-9.3,0.08,1.65],[-6.9,0.2,1.5],[-7.6,0.4,2.3],
  [-9.0,1.33,3.54],[-6.0,1.93,3.54],[-7.45,2.41,4.66],[-7.0,3.1,4.66],[-5.5,3.38,4.66],[-3.6,3.2,4.94],[-6.5,2.0,3.2],[-8.0,1.9,3.0],
  [-4.9,4.82,6.95],[-8.1,4.98,6.95],[-6.8,4.95,6.3],[-7.2,5.2,7.3],
  [-3.9,6.46,8.35],[-7.6,6.5,8.59],[-8.3,6.02,7.95],[-6.9,7.0,8.8],[-10.0,8.03,9.96],[-6.4,8.5,10.1],[-5.4,9.64,12.05],
  [-6.6,9.07,11.16],[-7.4,9.6,11.5],[-4.4,10.96,13.29],[-5.9,11.33,12.05],[-8.2,8.59,9.8],[-6.8,11.5,13.0],
  [-5.9,12.69,14.7],[-8.2,12.77,14.46],[-7.2,12.3,14.0],[-9.3,13.25,14.7],[-6.3,13.74,16.07],[-6.9,13.9,15.4],[-7.9,14.7,16.23],
  [-9.0,14.78,16.07],[-7.3,15.0,16.9],[-4.4,15.5,17.84],[-5.5,14.62,15.91],[-9.7,16.55,17.51],[-6.7,16.2,17.4],[-10.5,12.05,12.53],
  [-4.2,19.28,22.66],[-5.0,19.04,21.45],[-6.6,19.12,20.97],[-6.9,19.5,21.0],[-7.4,19.04,21.94],[-8.3,19.2,20.97],[-10.0,19.6,22.1],
  [-6.45,21.05,23.06],[-7.0,20.8,22.5],[-7.6,21.29,22.58],[-5.2,21.94,24],[-7.2,22.9,24],[-8.4,22.58,24],[-9.45,23.06,24],
  [-5.9,22.42,24],[-6.8,22.1,23.9]
];
const blueVBars = [
  [0.72,-2.3,-11.0],[0.92,-0.7,-11.6],[1.05,-1.7,-11.9],[1.1,-1.6,-7.6],
  [2.17,-5.9,-12.5],[2.27,-3.6,-13.0],[2.57,-4.3,-12.3],[2.8,-0.4,-11.0],
  [3.68,-0.3,-14.5],
  [5.79,-1.6,-12.8],[5.55,-4.7,-11.0],
  [6.08,-2.3,-9.0],[6.93,-4.3,-11.0],[7.21,-4.3,-9.9],[7.37,-0.6,-10.7],[7.69,-4.3,-13.3],[8.99,-4.7,-13.8],[9.3,-1.3,-11.6],
  [8.83,-6.2,-12.7],[10.13,-3.0,-12.5],[10.58,-2.1,-12.5],[11.87,-1.1,-10.9],
  [12.35,-1.1,-10.7],[13.7,-3.3,-13.8],[14.28,-3.6,-12.9],[15.1,-4.0,-12.5],[15.54,-1.4,-13.3],[15.91,-3.0,-13.2],[16.57,-1.4,-13.2],[16.87,-1.1,-12.2],
  [20.01,-1.6,-12.9],[20.23,-0.7,-11.6],[20.53,-4.7,-13.5],[21.36,-1.1,-10.5],[21.68,-0.9,-11.9],[22.02,-3.2,-10.7],[23.18,-1.9,-12.3],[23.26,-2.0,-11.9]
];

// +/- 0.2 deg bands
const bandSpan = [0.5, 23.4];
const blueBand = [-3.6, -10.6];
const redBand = [-4.8, -11.75];

const RED = "#ff0000";
const BLUE = "#0000ff";
const FONT = "Liberation Sans";

function diamonds(name, color, data) {
  return {
    name: name,
    type: "scatter",
    data: data,
    symbol: "diamond",
    symbolSize: 9,
    large: false,
    itemStyle: { color: "transparent", borderColor: color, borderWidth: 1.4 },
    silent: true,
    z: 3
  };
}

function gapLine(color, seg) {
  return {
    type: "line",
    data: seg,
    symbol: "none",
    silent: true,
    lineStyle: { color: color, width: 10, cap: "round" },
    z: 4
  };
}

function bandLine(color, v, dash) {
  return {
    type: "line",
    data: [[bandSpan[0], v], [bandSpan[1], v]],
    symbol: "none",
    silent: true,
    lineStyle: { color: color, width: 3, type: dash, cap: "butt" },
    z: 6
  };
}

function selected(name, color, hBars, vBars) {
  const segs = hBars.map(b => [b[1], b[0], b[2], b[0]])
    .concat(vBars.map(b => [b[0], b[1], b[0], b[2]]));
  return {
    name: name,
    type: "custom",
    data: segs,
    encode: { x: [0, 2], y: [1, 3] },
    clip: true,
    silent: true,
    itemStyle: { color: color },
    z: 5,
    renderItem: function (params, api) {
      const a = api.coord([api.value(0), api.value(1)]);
      const b = api.coord([api.value(2), api.value(3)]);
      const horiz = Math.abs(a[1] - b[1]) < 0.5;
      return {
        type: "line",
        shape: { x1: a[0], y1: a[1], x2: b[0], y2: b[1] },
        style: { stroke: color, lineWidth: horiz ? 2.2 : 2 }
      };
    }
  };
}

const plusIcon = "path://M0,9.5H20V10.5H0Z M9.5,0H10.5V20H9.5Z";

const chart = echarts.init(document.getElementById("chart"), null, { renderer: "canvas" });

const axisCommon = {
  type: "value",
  splitLine: { show: false },
  axisLine: { show: true, onZero: false, lineStyle: { color: "#111", width: 1.5 } },
  axisTick: { show: true, inside: true, lineStyle: { color: "#222", width: 1.3 } },
  minorTick: { show: true, lineStyle: { color: "#222", width: 1.3 } }
};

chart.setOption({
  animation: false,
  backgroundColor: "transparent",
  textStyle: { fontFamily: FONT },
  grid: { left: 206, right: 191, top: 7, bottom: 111, containLabel: false, outerBoundsMode: "none" },
  legend: {
    orient: "vertical",
    left: 906,
    top: 50,
    itemWidth: 14,
    itemHeight: 14,
    itemGap: 9,
    selectedMode: false,
    textStyle: { fontSize: 21, fontFamily: FONT, padding: [0, 0, 0, 7] },
    data: [
      { name: "PSS_x interp", icon: "diamond", itemStyle: { color: "transparent", borderColor: RED, borderWidth: 1.2 }, textStyle: { color: RED } },
      { name: "PSS_y interp", icon: "diamond", itemStyle: { color: "transparent", borderColor: BLUE, borderWidth: 1.2 }, textStyle: { color: BLUE } },
      { name: "PSS selected", icon: plusIcon, itemStyle: { color: RED, borderColor: RED, borderWidth: 0.6, opacity: 1 }, textStyle: { color: RED } },
      { name: "PSS selected ", icon: plusIcon, itemStyle: { color: BLUE, borderColor: BLUE, borderWidth: 0.6, opacity: 1 }, textStyle: { color: BLUE } }
    ]
  },
  xAxis: [
    Object.assign({}, axisCommon, {
      position: "bottom",
      min: 0, max: 24, interval: 2,
      axisTick: Object.assign({}, axisCommon.axisTick, { length: 13 }),
      minorTick: Object.assign({}, axisCommon.minorTick, { splitNumber: 9, length: 6 }),
      axisLabel: {
        fontSize: 29, color: "#1e1e1e", margin: 31, fontFamily: FONT,
        formatter: v => xTickLabels[Math.round(v / 2)]
      },
      name: "Time (2020-03-03; hh)",
      nameLocation: "middle",
      nameGap: 79,
      nameTextStyle: { fontSize: 32, color: "#1e1e1e", fontFamily: FONT }
    }),
    Object.assign({}, axisCommon, {
      position: "top",
      min: 0, max: 24, interval: 2,
      axisTick: Object.assign({}, axisCommon.axisTick, { length: 13 }),
      minorTick: Object.assign({}, axisCommon.minorTick, { splitNumber: 9, length: 6 }),
      axisLabel: { show: false }
    })
  ],
  yAxis: [
    Object.assign({}, axisCommon, {
      position: "left",
      min: -30, max: 30, interval: 10,
      axisTick: Object.assign({}, axisCommon.axisTick, { length: 19 }),
      minorTick: Object.assign({}, axisCommon.minorTick, { splitNumber: 10, length: 9 }),
      axisLabel: {
        margin: 17, color: "#1e1e1e", fontFamily: FONT,
        formatter: function (v) {
          const t = yTickLabels[String(Math.round(v))];
          if (v >= 30) return "{top|" + t + "}";
          if (v <= -30) return "{bot|" + t + "}";
          if (v === -10) return "{mid|" + t + "}";
          return "{n|" + t + "}";
        },
        rich: {
          n: { fontSize: 40, fontFamily: FONT, color: "#1e1e1e", padding: [10, 0, 0, 0] },
          mid: { fontSize: 40, fontFamily: FONT, color: "#1e1e1e", padding: [16, 0, 0, 0] },
          top: { fontSize: 40, fontFamily: FONT, color: "#1e1e1e", padding: [40, 0, 0, 0] },
          bot: { fontSize: 40, fontFamily: FONT, color: "#1e1e1e", padding: [0, 0, 24, 0] }
        }
      },
      name: "Pointing (unit vector)",
      nameLocation: "middle",
      nameGap: 150,
      nameTextStyle: { fontSize: 42, color: "#1e1e1e", fontFamily: FONT }
    }),
    Object.assign({}, axisCommon, {
      position: "right",
      min: -30, max: 30, interval: 10,
      axisTick: Object.assign({}, axisCommon.axisTick, { length: 19 }),
      minorTick: Object.assign({}, axisCommon.minorTick, { splitNumber: 10, length: 9 }),
      axisLabel: { show: false }
    })
  ],
  graphic: [
    {
      type: "polygon", z: -10, silent: true,
      shape: { points: [[0, 747], [100, 756], [200, 766], [300, 777], [400, 789], [480, 801], [560, 815], [0, 815]] },
      style: { fill: "#adc9e3" }
    },
    {
      type: "polygon", silent: true,
      shape: { points: [[1286.5, 288], [1293.5, 288], [1293.5, 355], [1301, 355], [1290, 378], [1279, 355], [1286.5, 355]] },
      style: { fill: "#0b2161" }
    },
    {
      type: "polygon", silent: true,
      shape: { points: [[1290, 503], [1301, 526], [1293.5, 526], [1293.5, 589], [1286.5, 589], [1286.5, 526], [1279, 526]] },
      style: { fill: "#0b2161" }
    },
    {
      type: "text", silent: true, left: 1233, top: 419,
      style: { text: "+/- 0.2º", font: "46px 'Liberation Sans'", fill: "#111" }
    }
  ],
  series: [
    diamonds("PSS_x interp", RED, pssXInterp.concat(pssXDense)),
    diamonds("PSS_y interp", BLUE, pssYInterp.concat(pssYDense)),
    gapLine(RED, pssXGaps[0]),
    gapLine(RED, pssXGaps[1]),
    gapLine(BLUE, pssYGaps[0]),
    gapLine(BLUE, pssYGaps[1]),
    selected("PSS selected", RED, redHBars, redVBars),
    selected("PSS selected ", BLUE, blueHBars, blueVBars),
    bandLine(BLUE, blueBand[0], [15, 13]),
    bandLine(BLUE, blueBand[1], [15, 13]),
    bandLine(RED, redBand[0], [3, 6]),
    bandLine(RED, redBand[1], [3, 6])
  ]
});
</script>
</body>
</html>
